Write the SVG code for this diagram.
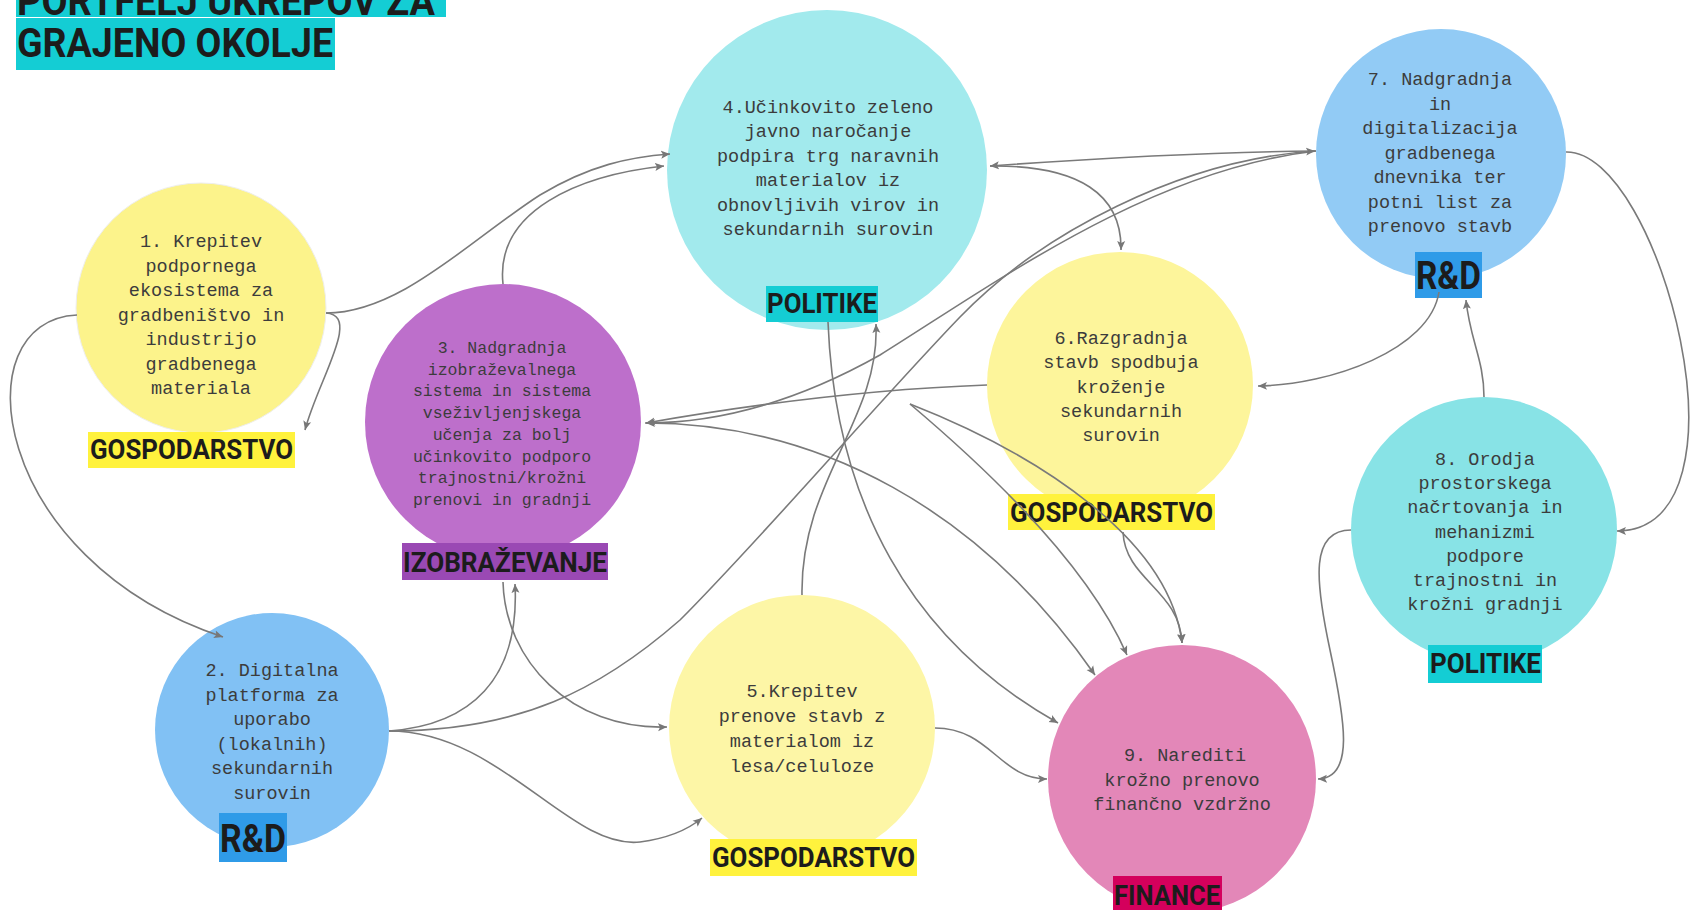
<svg xmlns="http://www.w3.org/2000/svg" width="1693" height="910" viewBox="0 0 1693 910">
<defs>
<marker id="arr" markerUnits="userSpaceOnUse" markerWidth="10" markerHeight="10" viewBox="0 0 10 10" refX="9" refY="5" orient="auto">
<path d="M0,1 L9,5 L0,9 L2,5 z" fill="#777"/>
</marker>
<style>
.c{fill:none;stroke:#7a7a7a;stroke-width:1.6;marker-end:url(#arr)}
.cn{fill:none;stroke:#7a7a7a;stroke-width:1.6}
.t{font-family:"Liberation Mono","DejaVu Sans Mono",monospace;font-size:18.5px;fill:#3c3c3c;text-anchor:middle}
.t3{font-size:16.5px}
.lb{font-family:Roboto,"Liberation Sans",sans-serif;font-weight:bold;fill:#1c1c1c;font-size:28px}
.big{font-size:39px}
.ti{font-family:Roboto,"Liberation Sans",sans-serif;font-weight:bold;fill:#1c1c1c;font-size:41px}
</style>
</defs>
<rect width="1693" height="910" fill="#fff"/>

<g id="title">
<rect x="16" y="0" width="430" height="17" fill="#14cdd4"/>
<rect x="16" y="18" width="319" height="52" fill="#14cdd4"/>
<text class="ti" x="17" y="15" textLength="418" lengthAdjust="spacingAndGlyphs">PORTFELJ UKREPOV ZA</text>
<text class="ti" x="17" y="57" textLength="316" lengthAdjust="spacingAndGlyphs">GRAJENO OKOLJE</text>
</g>

<g id="n1">
<circle cx="201" cy="308" r="125" fill="#fcf38b" stroke="#eee" stroke-width="1"/>
<text class="t" x="201" y="247">1. Krepitev</text>
<text class="t" x="201" y="271.5">podpornega</text>
<text class="t" x="201" y="296">ekosistema za</text>
<text class="t" x="201" y="320.5">gradbeništvo in</text>
<text class="t" x="201" y="345">industrijo</text>
<text class="t" x="201" y="369.5">gradbenega</text>
<text class="t" x="201" y="394">materiala</text>
<rect x="88" y="432" width="207" height="36" fill="#fff23d"/>
<text class="lb" x="90" y="459" textLength="203" lengthAdjust="spacingAndGlyphs">GOSPODARSTVO</text>
</g>

<g id="n2">
<circle cx="272" cy="730" r="117" fill="#81c1f4"/>
<text class="t" x="272" y="676">2. Digitalna</text>
<text class="t" x="272" y="700.5">platforma za</text>
<text class="t" x="272" y="725">uporabo</text>
<text class="t" x="272" y="749.5">(lokalnih)</text>
<text class="t" x="272" y="774">sekundarnih</text>
<text class="t" x="272" y="798.5">surovin</text>
<rect x="219" y="813" width="68" height="49" fill="#2f9be8"/>
<text class="lb big" x="220" y="852" textLength="66" lengthAdjust="spacingAndGlyphs">R&amp;D</text>
</g>

<g id="n3">
<circle cx="503" cy="422" r="138" fill="#bd6fcb"/>
<text class="t t3" x="502" y="353">3. Nadgradnja</text>
<text class="t t3" x="502" y="374.7">izobraževalnega</text>
<text class="t t3" x="502" y="396.4">sistema in sistema</text>
<text class="t t3" x="502" y="418.1">vseživljenjskega</text>
<text class="t t3" x="502" y="439.8">učenja za bolj</text>
<text class="t t3" x="502" y="461.5">učinkovito podporo</text>
<text class="t t3" x="502" y="483.2">trajnostni/krožni</text>
<text class="t t3" x="502" y="504.9">prenovi in gradnji</text>
<rect x="402" y="543" width="206" height="37" fill="#9a49b4"/>
<text class="lb" x="403" y="572" textLength="204" lengthAdjust="spacingAndGlyphs">IZOBRAŽEVANJE</text>
</g>

<g id="n4">
<circle cx="827" cy="170" r="160" fill="#a2eaed"/>
<text class="t" x="828" y="113">4.Učinkovito zeleno</text>
<text class="t" x="828" y="137.4">javno naročanje</text>
<text class="t" x="828" y="161.8">podpira trg naravnih</text>
<text class="t" x="828" y="186.2">materialov iz</text>
<text class="t" x="828" y="210.6">obnovljivih virov in</text>
<text class="t" x="828" y="235">sekundarnih surovin</text>
<rect x="766" y="286" width="112" height="36" fill="#14cdd4"/>
<text class="lb" x="767" y="313" textLength="110" lengthAdjust="spacingAndGlyphs">POLITIKE</text>
</g>

<g id="n5">
<circle cx="802" cy="728" r="133" fill="#fdf6a6"/>
<text class="t" x="802" y="697">5.Krepitev</text>
<text class="t" x="802" y="722">prenove stavb z</text>
<text class="t" x="802" y="747">materialom iz</text>
<text class="t" x="802" y="772">lesa/celuloze</text>
<rect x="710" y="839" width="207" height="37" fill="#fff23d"/>
<text class="lb" x="712" y="867" textLength="203" lengthAdjust="spacingAndGlyphs">GOSPODARSTVO</text>
</g>

<g id="n6">
<circle cx="1120" cy="385" r="133" fill="#fdf59b"/>
<text class="t" x="1121" y="344">6.Razgradnja</text>
<text class="t" x="1121" y="368.3">stavb spodbuja</text>
<text class="t" x="1121" y="392.6">kroženje</text>
<text class="t" x="1121" y="416.9">sekundarnih</text>
<text class="t" x="1121" y="441.2">surovin</text>
<rect x="1008" y="494" width="207" height="36" fill="#fff23d"/>
<text class="lb" x="1010" y="522" textLength="203" lengthAdjust="spacingAndGlyphs">GOSPODARSTVO</text>
</g>

<g id="n7">
<circle cx="1441" cy="154" r="125" fill="#92cbf5"/>
<text class="t" x="1440" y="85">7. Nadgradnja</text>
<text class="t" x="1440" y="109.5">in</text>
<text class="t" x="1440" y="134">digitalizacija</text>
<text class="t" x="1440" y="158.5">gradbenega</text>
<text class="t" x="1440" y="183">dnevnika ter</text>
<text class="t" x="1440" y="207.5">potni list za</text>
<text class="t" x="1440" y="232">prenovo stavb</text>
<rect x="1415" y="252" width="67" height="46" fill="#2f9be8"/>
<text class="lb big" x="1416" y="289" textLength="65" lengthAdjust="spacingAndGlyphs">R&amp;D</text>
</g>

<g id="n8">
<circle cx="1484" cy="530" r="133" fill="#88e3e6"/>
<text class="t" x="1485" y="465">8. Orodja</text>
<text class="t" x="1485" y="489.2">prostorskega</text>
<text class="t" x="1485" y="513.4">načrtovanja in</text>
<text class="t" x="1485" y="537.6">mehanizmi</text>
<text class="t" x="1485" y="561.8">podpore</text>
<text class="t" x="1485" y="586">trajnostni in</text>
<text class="t" x="1485" y="610.2">krožni gradnji</text>
<rect x="1428" y="645" width="114" height="38" fill="#14cdd4"/>
<text class="lb" x="1430" y="673" textLength="111" lengthAdjust="spacingAndGlyphs">POLITIKE</text>
</g>

<g id="n9">
<circle cx="1182" cy="779" r="134" fill="#e387b8"/>
<text class="t" x="1185" y="761">9. Narediti</text>
<text class="t" x="1182" y="785.5">krožno prenovo</text>
<text class="t" x="1182" y="810">finančno vzdržno</text>
<rect x="1113" y="876" width="109" height="34" fill="#d4005c"/>
<text class="lb" x="1114" y="905" textLength="106" lengthAdjust="spacingAndGlyphs">FINANCE</text>
</g>

<g id="connectors">
<path class="c" d="M326,313 C400,313 470,240 540,195 C590,165 630,157 670,154"/>
<path class="c" d="M326,313 C362,315 318,380 305,430"/>
<path class="c" d="M77,315 C-40,320 -10,560 223,637"/>
<path class="c" d="M503,284 C495,210 580,175 664,166"/>
<path class="c" d="M1316,151 C1200,152 1100,158 990,166"/>
<path class="c" d="M990,166 C1080,165 1122,195 1121,250"/>
<path class="c" d="M1316,151 C1150,170 1000,280 880,355 C800,400 720,423 646,423"/>
<path class="c" d="M987,385 C850,390 720,410 646,423"/>
<path class="c" d="M389,731 C520,731 600,690 680,620 C760,540 880,400 960,317 C1040,234 1180,160 1315,151"/>
<path class="c" d="M645,423 C820,423 980,510 1095,675"/>
<path class="c" d="M828,322 C835,500 910,640 1058,723"/>
<path class="c" d="M802,595 C800,480 880,420 876,324"/>
<path class="c" d="M935,728 C990,728 1000,779 1047,779"/>
<path class="c" d="M389,731 C500,731 570,850 640,842 C670,838 690,828 702,818"/>
<path class="c" d="M389,731 C470,725 520,680 515,584"/>
<path class="c" d="M503,582 C505,660 570,730 667,727"/>
<path class="c" d="M1439,292 C1430,350 1330,385 1258,386"/>
<path class="c" d="M1484,397 C1484,360 1470,340 1466,300"/>
<path class="c" d="M1566,152 C1660,150 1760,530 1617,531"/>
<path class="c" d="M1351,530 C1310,530 1315,580 1330,650 C1345,720 1355,778 1318,779"/>
<path class="c" d="M910,404 C1000,480 1090,570 1127,655"/>
<path class="c" d="M910,404 C1040,455 1170,540 1182,643"/>
<path class="c" d="M1123,532 C1125,580 1180,590 1182,643"/>
</g>
</svg>
